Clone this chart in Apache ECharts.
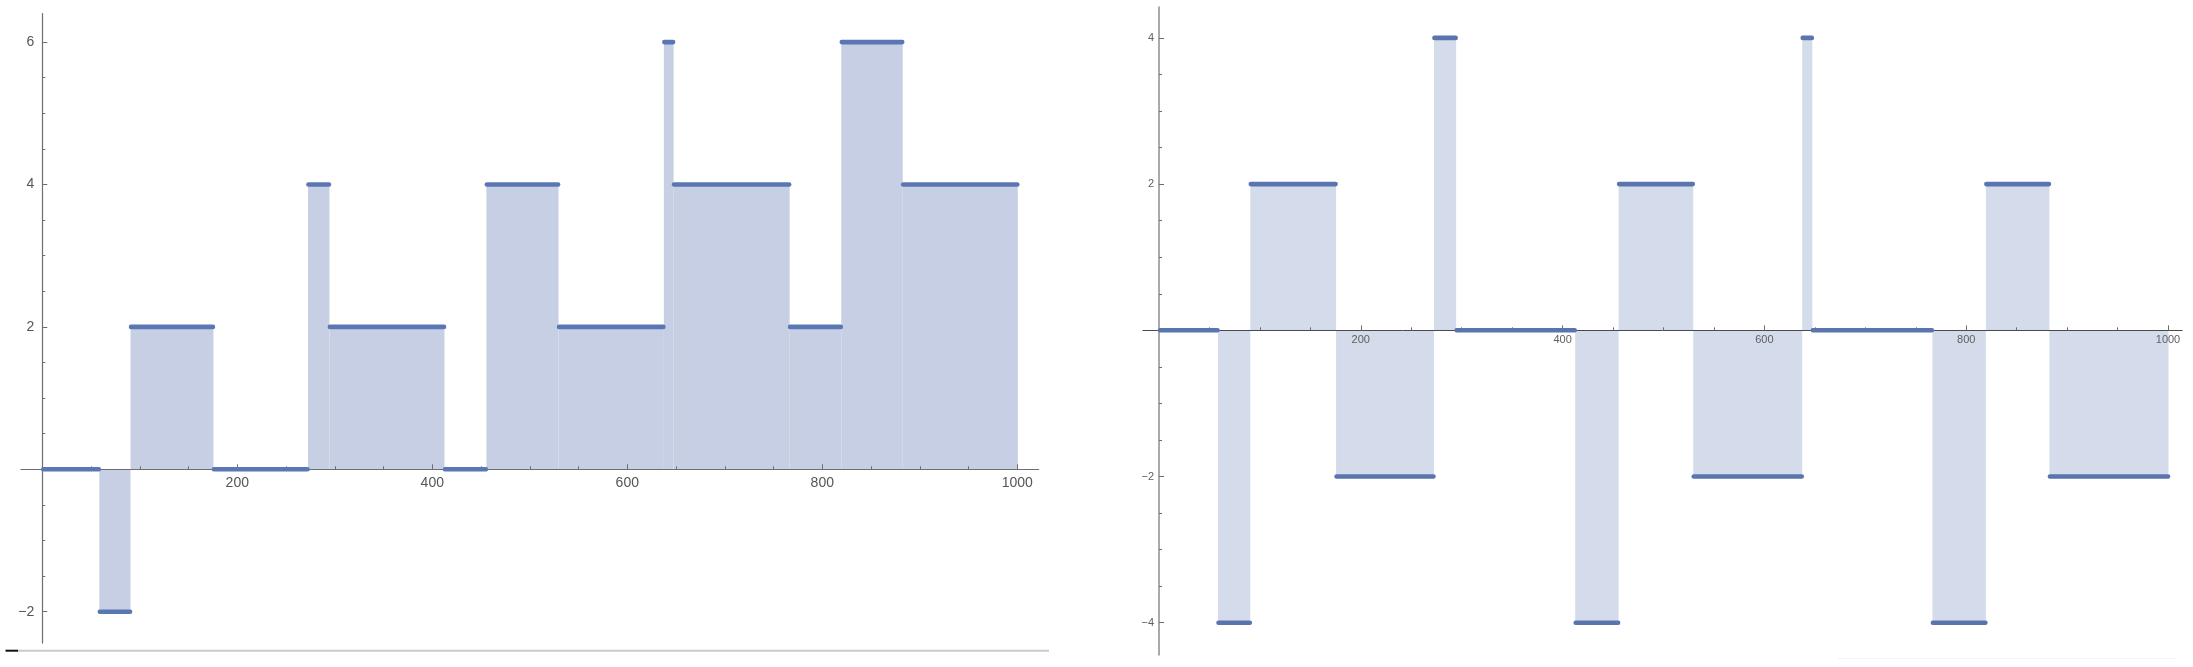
<!DOCTYPE html>
<html><head><meta charset="utf-8">
<script src="https://cdn.jsdelivr.net/npm/echarts@6/dist/echarts.min.js"></script>
<style>html,body{margin:0;padding:0;background:#fff;} #c{width:2193px;height:667px;}</style>
</head><body><div id="c"></div>
<script>
// step segments (point index ranges, 1..1000)
const segStart    = [1, 59, 91, 176, 273, 295, 413, 456, 530, 638, 648, 767, 820, 883];
const segEnd      = [58, 90, 175, 272, 294, 412, 455, 529, 637, 647, 766, 819, 882, 1000];
const leftValues  = [0, -2, 2, 0, 4, 2, 0, 4, 2, 6, 4, 2, 6, 4];
const rightValues = [0, -4, 2, -2, 4, 0, -4, 2, -2, 4, 0, -4, 2, -2];

// tick labels
const xMajorTicks = [200, 400, 600, 800, 1000];
const xMinorTicks = [50, 100, 150, 200, 250, 300, 350, 400, 450, 500, 550, 600, 650, 700, 750, 800, 850, 900, 950, 1000];
const leftYMajor  = [-2, 2, 4, 6];
const leftYMinor  = [-2, -1.5, -1, -0.5, 0.5, 1, 1.5, 2, 2.5, 3, 3.5, 4, 4.5, 5, 5.5, 6];
const rightYMajor = [-4, -2, 2, 4];
const rightYMinor = [-4, -3.5, -3, -2.5, -2, -1.5, -1, -0.5, 0.5, 1, 1.5, 2, 2.5, 3, 3.5, 4];

const FONT = 'Liberation Sans, Arial, sans-serif';
function fmt(v) { return v < 0 ? '\u2212' + (-v) : String(v); }

const panels = [
  { vals: leftValues,
    x0: 42.3, xs: 0.975, xMin: -22, xMax: 1022,
    y0: 469.3, ys: 71.2, yMin: -2.44, yMax: 6.40,
    yMajor: leftYMajor, yMinor: leftYMinor,
    xLine: '#6e6e6e', yLine: '#6e6e6e', yLineW: 1.2, tickColor: '#6e6e6e', labelColor: '#555', font: 14,
    xMargin: 7, yMargin: 8, fill: '#c6cfe4', dot: '#5a77b3', dotW: 4.6 },
  { vals: rightValues,
    x0: 1159, xs: 1.009, xMin: -16, xMax: 1014,
    y0: 330.3, ys: 73.1, yMin: -4.44, yMax: 4.42,
    yMajor: rightYMajor, yMinor: rightYMinor,
    xLine: '#4a4a4a', yLine: '#a9a9a9', yLineW: 2, tickColor: '#6e6e6e', labelColor: '#5f5f5f', font: 11,
    xMargin: 4, yMargin: 5, fill: '#d4dbea', dot: '#5a74ae', dotW: 4.6 }
];

const grid = [], xAxis = [], yAxis = [], series = [];
function hiddenAxis(gi, min, max) { return { type: 'value', gridIndex: gi, min, max, show: false }; }

panels.forEach((p) => {
  const left = p.x0 + p.xMin * p.xs, width = (p.xMax - p.xMin) * p.xs;
  const top = p.y0 - p.yMax * p.ys, height = (p.yMax - p.yMin) * p.ys;

  // main data grid
  grid.push({ left, top, width, height });
  const mainIdx = grid.length - 1;
  xAxis.push(hiddenAxis(mainIdx, p.xMin, p.xMax));
  yAxis.push(hiddenAxis(mainIdx, p.yMin, p.yMax));

  // x axis grids (bottom edge at y = 0), major then minor ticks
  for (let k = 0; k < 2; k++) {
    const major = k === 0;
    grid.push({ left, top, width, height: p.y0 - top });
    const gi = grid.length - 1;
    xAxis.push({
      type: 'value', gridIndex: gi, min: p.xMin, max: p.xMax, position: 'bottom', z: 3,
      axisLine: { show: major, onZero: false, lineStyle: { color: p.xLine, width: 1 } },
      axisTick: { show: true, inside: true, length: major ? 5 : 3,
        customValues: major ? xMajorTicks : xMinorTicks,
        lineStyle: { color: p.tickColor, width: 1 } },
      axisLabel: { show: major, customValues: xMajorTicks, formatter: fmt,
        color: p.labelColor, fontSize: p.font, fontFamily: FONT, margin: p.xMargin },
      splitLine: { show: false }
    });
    yAxis.push(hiddenAxis(gi, 0, p.yMax));
  }
  // y axis grids (left edge at x = 0)
  for (let k = 0; k < 2; k++) {
    const major = k === 0;
    grid.push({ left: p.x0, top, width: left + width - p.x0, height });
    const gi = grid.length - 1;
    xAxis.push(hiddenAxis(gi, 0, p.xMax));
    yAxis.push({
      type: 'value', gridIndex: gi, min: p.yMin, max: p.yMax, position: 'left', z: 3,
      axisLine: { show: major, onZero: false, lineStyle: { color: p.yLine, width: p.yLineW } },
      axisTick: { show: true, inside: true, length: major ? 5 : 3,
        customValues: major ? p.yMajor : p.yMinor,
        lineStyle: { color: p.tickColor, width: 1 } },
      axisLabel: { show: major, customValues: p.yMajor, formatter: fmt,
        color: p.labelColor, fontSize: p.font, fontFamily: FONT, margin: p.yMargin },
      splitLine: { show: false }
    });
  }

  const data = segStart.map((s, i) => [s, segEnd[i], p.vals[i]]);
  series.push({
    type: 'custom', xAxisIndex: mainIdx, yAxisIndex: mainIdx, z: 1, silent: true,
    encode: { x: [0, 1], y: 2 }, data: data,
    renderItem: (params, api) => {
      const a = api.coord([api.value(0) - 0.5, 0]);
      const b = api.coord([api.value(1) + 0.5, api.value(2)]);
      return { type: 'rect', shape: { x: a[0], y: Math.min(a[1], b[1]), width: b[0] - a[0], height: Math.abs(b[1] - a[1]) },
        style: { fill: p.fill } };
    }
  });
  series.push({
    type: 'custom', xAxisIndex: mainIdx, yAxisIndex: mainIdx, z: 5, silent: true,
    encode: { x: [0, 1], y: 2 }, data: data,
    renderItem: (params, api) => {
      const a = api.coord([api.value(0), api.value(2)]);
      const b = api.coord([api.value(1), api.value(2)]);
      return { type: 'line', shape: { x1: a[0], y1: a[1], x2: b[0], y2: b[1] },
        style: { stroke: p.dot, lineWidth: p.dotW, lineCap: 'round' } };
    }
  });
});

const chart = echarts.init(document.getElementById('c'), null, { renderer: 'canvas' });
chart.setOption({
  animation: false,
  backgroundColor: '#ffffff',
  grid, xAxis, yAxis, series,
  graphic: [
    { type: 'line', shape: { x1: 18, y1: 650.7, x2: 1049, y2: 650.7 }, style: { stroke: '#cbcbcb', lineWidth: 2 } },
    { type: 'line', shape: { x1: 5.5, y1: 650.7, x2: 18, y2: 650.7 }, style: { stroke: '#111', lineWidth: 2 } },
    { type: 'line', shape: { x1: 1838, y1: 658.5, x2: 2175, y2: 658.5 }, style: { stroke: '#f3f3f3', lineWidth: 1 } }
  ]
});
</script></body></html>
